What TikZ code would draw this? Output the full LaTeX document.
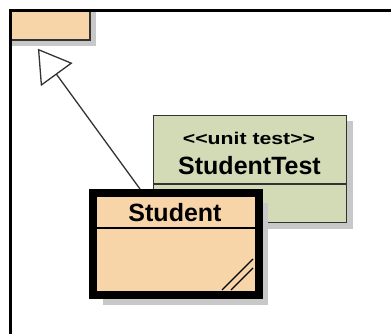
\documentclass[tikz,border=0pt]{standalone}
\usepackage{fontspec}
\setmainfont{Liberation Sans}
\usepackage{graphicx}
\usetikzlibrary{arrows.meta,shadows,calc}

\definecolor{classfill}{HTML}{F7D5A9}
\definecolor{testfill}{HTML}{D2DBB6}
\definecolor{shadowgray}{HTML}{C8C8C8}
\definecolor{linegray}{HTML}{333333}

\tikzset{
  umlbox/.style={rectangle,draw=linegray,line width=1.3pt,inner sep=0pt},
  boxshadow/.style={general shadow={fill=shadowgray,shadow xshift=#1,shadow yshift=-#1}},
  classname/.style={anchor=base,text=black,font=\fontsize{25}{25}\selectfont\bfseries},
  stereotype/.style={anchor=base,text=black,font=\fontsize{17}{17}\selectfont\bfseries},
  inherit/.style={draw=linegray,line width=1.3pt,-{Triangle[open,length=32pt,width=39pt]},shorten >=10pt}
}

\begin{document}
\begin{tikzpicture}[x=1pt,y=-1pt]
  \useasboundingbox (0,0) rectangle (391,334);

  % superclass, cut off by the frame
  \begin{scope}
    \clip (10.5,10.5) rectangle (391,334);
    \node[umlbox,fill=classfill,boxshadow=6pt,minimum width=110pt,minimum height=60pt] (parent) at (35,10) {};
  \end{scope}

  % test class
  \node[umlbox,fill=testfill,boxshadow=6pt,minimum width=193pt,minimum height=107pt] (studenttest) at (250,169) {};
  \draw[linegray,line width=1.2pt] (studenttest.west |- 0,184) -- (studenttest.east |- 0,184);
  \node[stereotype] (stereo) at (249,145) {\scalebox{1.25}[1]{<{}<unit test>{}>}};
  \node[classname] (testname) at (249.5,175) {StudentTest};

  % selected class
  \node[umlbox,draw=black,line width=8pt,fill=classfill,boxshadow=9.5pt,minimum width=165.5pt,minimum height=102pt] (student) at (175.75,244) {};
  \draw[black,line width=1.5pt] (student.west |- 0,228) -- (student.east |- 0,228);
  \node[classname] (studentname) at (175,221) {Student};
  \draw[black,line width=1.2pt] ([shift={(-40.5,-9)}]student.south east) -- ([shift={(-9.5,-40)}]student.south east);
  \draw[black,line width=1.2pt] ([shift={(-31.5,-9)}]student.south east) -- ([shift={(-9.5,-31)}]student.south east);

  \draw[inherit] ($(student.north west)!0.294!(student.north east)$) -- ($(parent.south west)!0.473!(parent.south east)$);

  % frame
  \draw[line width=3pt] (10.5,334) -- (10.5,10.5) -- (391,10.5);
\end{tikzpicture}
\end{document}
